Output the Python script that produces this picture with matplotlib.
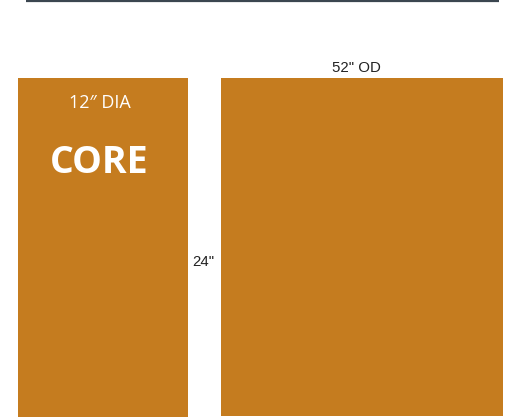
import matplotlib
matplotlib.use("Agg")
import matplotlib.pyplot as plt

# Data (diagram of a core and outer drum)
parts = ["CORE", "OD"]
diameters_in = [12, 52]
height_in = 24
core_label = "12\u2033 DIA"
core_title = "CORE"
od_label = '52" OD'
height_label = '24"'

W, H = 508, 419
fig = plt.figure(figsize=(W / 100, H / 100), dpi=100)
ax = fig.add_axes([0, 0, 1, 1])
ax.set_xlim(0, W)
ax.set_ylim(H, 0)
ax.axis("off")

color = "#C57C1F"
# left core rectangle and right OD rectangle drawn as bars
lefts = [18, 221]
widths = [170, 282]
tops = [78, 78]
bottoms = [417, 416]
ax.bar(lefts, [b - t for b, t in zip(bottoms, tops)], width=widths,
       bottom=tops, align="edge", color=color, linewidth=0)

# top rule
ax.plot([26, 499], [0.6, 0.6], color="#3b4650", lw=1.6, solid_capstyle="butt")

ax.text(100, 108, core_label, color="white", fontsize=13,
        family="Open Sans", ha="center", va="baseline")
ax.text(99.5, 173, core_title, color="white", fontsize=27,
        family="Open Sans", weight="bold", ha="center", va="baseline")
ax.text(203, 266, height_label, color="#222222", fontsize=10.8,
        family="Liberation Sans", ha="center", va="baseline")
ax.text(356, 71.5, od_label, color="#222222", fontsize=10.8,
        family="Liberation Sans", ha="center", va="baseline")

fig.savefig("out.png", dpi=100, facecolor="white")
